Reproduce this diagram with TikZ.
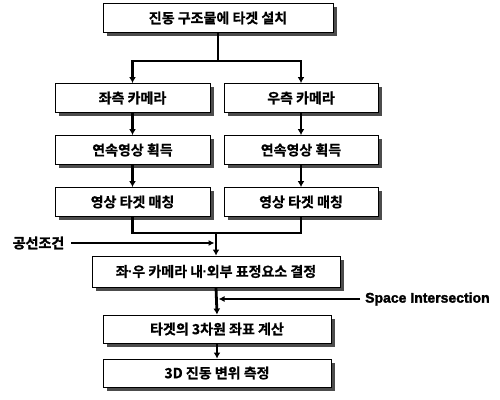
\documentclass[tikz,border=0pt]{standalone}
\usepackage{fontspec}
\setmainfont{Liberation Sans}
\newfontfamily\kr{Noto Sans CJK KR Bold}[FakeBold=0.6]
\newfontfamily\krh{Noto Sans CJK KR Bold}[FakeBold=1.6]
\newfontfamily\lath{Liberation Sans Bold}[FakeBold=1.8]
\newfontfamily\dotfont{Liberation Sans Bold}
\newcommand{\mdot}{{\dotfont\kern-0.5pt·\kern-0.5pt}}
\usetikzlibrary{arrows.meta,shadows,calc}
\tikzset{
  box/.style={draw=black, line width=0.9pt, fill=white, minimum height=29pt,
    inner sep=0pt, font=\kr\fontsize{14}{16}\selectfont,
    drop shadow={shadow xshift=3.5pt, shadow yshift=-3.5pt, fill=black!70, opacity=1}},
  conn/.style={line width=2.8pt},
  arr/.style={line width=2.8pt, -{Latex[length=6pt,width=7pt]}},
  thinarr/.style={line width=1.3pt, -{Latex[length=6pt,width=6pt]}},
  lbl/.style={inner sep=0pt}
}
\begin{document}
\begin{tikzpicture}[x=1pt,y=-1pt]
\useasboundingbox (0,0) rectangle (500,399);
\node[box, minimum width=230pt] (top) at (218,18) {진동 구조물에 타겟 설치};
\node[box, minimum width=155pt] (L1) at (132.5,98) {좌측 카메라};
\node[box, minimum width=154pt] (R1) at (301,98) {우측 카메라};
\node[box, minimum width=155pt] (L2) at (132.5,150) {연속영상 획득};
\node[box, minimum width=154pt] (R2) at (301,150) {연속영상 획득};
\node[box, minimum width=155pt] (L3) at (132.5,202) {영상 타겟 매칭};
\node[box, minimum width=154pt] (R3) at (301,202) {영상 타겟 매칭};
\node[box, minimum width=248pt, minimum height=31pt] (mid) at (216,271.5) {좌\mdot 우 카메라 내\mdot 외부 표정요소 결정};
\node[box, minimum width=228pt, minimum height=28pt] (calc) at (217,329) {타겟의 3차원 좌표 계산};
\node[box, minimum width=228pt, minimum height=28pt] (meas) at (217,373) {3D 진동 변위 측정};
\node[lbl, font=\krh\fontsize{14}{16}\selectfont] (gong) at (38.5,243) {공선조건};
\node[lbl, font=\lath\fontsize{14}{16}\selectfont, anchor=west] (space) at (365,299) {Space Intersection};
\coordinate (branch) at (218,61);
\coordinate (join) at (216,233);
% top branch
\draw[conn] (top.south) -- (top.south |- branch);
\draw[arr] ($(top.south |- branch)+(1.4,0)$) -| (L1.north);
\draw[arr] ($(top.south |- branch)-(1.4,0)$) -| (R1.north);
% columns
\draw[arr] (L1.south) -- (L2.north);
\draw[arr] (R1.south) -- (R2.north);
\draw[arr] (L2.south) -- (L3.north);
\draw[arr] (R2.south) -- (R3.north);
% join
\draw[conn, line join=miter] (L3.south) |- (join) -| (R3.south);
\draw[arr] (join) -- (mid.north);
% side inputs
\draw[thinarr, shorten <=7pt, shorten >=1.5pt] (gong.east) -- (gong.east -| mid.north);
\draw[arr] (mid.south) -- (calc.north);
\draw[thinarr, line width=1.6pt, shorten <=5pt, shorten >=1.5pt] (space.west) -- (space.west -| calc.north);
\draw[arr] (calc.south) -- (meas.north);
\end{tikzpicture}
\end{document}
